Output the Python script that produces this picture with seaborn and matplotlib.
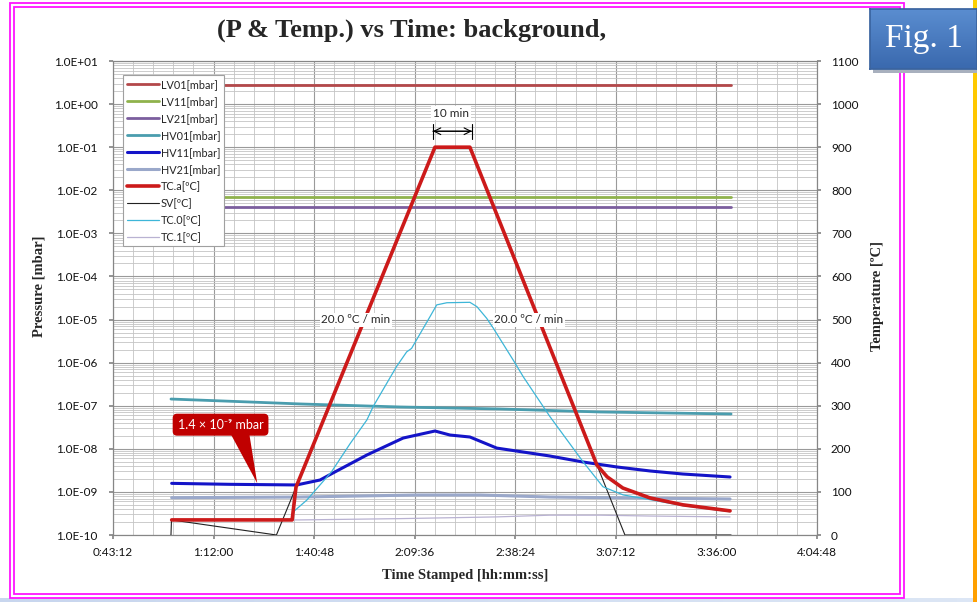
import numpy as np
import matplotlib
matplotlib.use("Agg")
import matplotlib.pyplot as plt
import matplotlib.ticker as mticker
from matplotlib.lines import Line2D
from matplotlib.patches import Rectangle
import seaborn as sns

# ---------------- data (time in minutes since 0:00:00) ----------------
lv_time = [59.8, 100.0, 140.0, 180.0, 220.2]
lv01_p = [2.75, 2.75, 2.75, 2.75, 2.75]
lv11_p = [6.9e-3, 6.9e-3, 6.9e-3, 6.9e-3, 6.9e-3]
lv21_p = [4.0e-3, 4.0e-3, 4.0e-3, 4.0e-3, 4.0e-3]

hv01_time = [59.8, 82.4, 96.8, 125.4, 154.0, 182.7, 220.2]
hv01_p = [1.43e-7, 1.22e-7, 1.10e-7, 9.35e-8, 8.40e-8, 7.16e-8, 6.43e-8]

hv11_time = [60.0, 76.7, 95.8, 102.5, 106.2, 115.9, 126.3, 135.4, 139.7, 145.4,
             153.1, 168.3, 177.8, 187.5, 197.0, 206.4, 219.9]
hv11_p = [1.58e-9, 1.50e-9, 1.45e-9, 1.89e-9, 2.75e-9, 7.19e-9, 1.78e-8, 2.59e-8,
          2.09e-8, 1.88e-8, 1.04e-8, 6.81e-9, 4.94e-9, 3.79e-9, 3.06e-9, 2.60e-9, 2.22e-9]

hv21_time = [60.0, 96.8, 130.2, 148.3, 168.3, 219.9]
hv21_p = [7.34e-10, 7.6e-10, 8.48e-10, 8.48e-10, 7.6e-10, 6.85e-10]

tca_time = [60.0, 94.5, 95.6, 105.8, 135.4, 145.4, 181.8, 184.7, 189.2, 197.0, 206.4, 219.9]
tca_temp = [35, 35, 111, 313, 900, 900, 162, 135, 109, 86, 70, 56]

sv_time = [59.8, 59.95, 90.0, 135.4, 145.4, 189.8, 220.2]
sv_temp = [0, 35, 0, 900, 900, 0, 0]

tc0_time = [60.0, 94.5, 95.0, 98.7, 105.8, 111.1, 115.9, 117.7, 124.4, 127.3, 128.7,
            134.0, 135.9, 138.8, 145.4, 147.4, 150.2, 152.1, 157.8, 160.7, 166.4,
            168.3, 177.8, 183.5, 189.3, 197.0, 206.4, 219.9]
tc0_temp = [35, 35, 55, 81, 147, 212, 267, 298, 391, 425, 433, 507, 534, 539, 540,
            530, 503, 480, 406, 367, 298, 275, 170, 112, 93, 82, 68, 54]

tc1_time = [60.0, 96.8, 125.4, 153.1, 168.3, 182.7, 197.0, 219.9]
tc1_temp = [35, 35, 38, 42, 46, 46, 44, 42]

x_ticks_min = [43.2, 72.0, 100.8, 129.6, 158.4, 187.2, 216.0, 244.8]
temp_ticks = list(range(0, 1101, 100))

# ---------------- style ----------------
sns.set_theme(style="white")
plt.rcParams["font.family"] = ["Lato", "DejaVu Sans"]

W, H = 977, 602
fig = plt.figure(figsize=(W / 100, H / 100), dpi=100)
fig.patch.set_facecolor("white")

L, R, T, B = 113, 817, 61, 535
ax = fig.add_axes([L / W, 1 - B / H, (R - L) / W, (B - T) / H])
ax.set_yscale("log")
ax2 = ax.twinx()

def draw(axis, t, v, color, lw, z):
    sns.lineplot(x=t, y=v, ax=axis, color=color, linewidth=lw, estimator=None,
                 sort=False, legend=False, zorder=z)

pressure = [
    ("LV01[mbar]", lv_time, lv01_p, "#B3484A", 2.0),
    ("LV11[mbar]", lv_time, lv11_p, "#8FB24C", 2.0),
    ("LV21[mbar]", lv_time, lv21_p, "#7B5E9E", 2.0),
    ("HV01[mbar]", hv01_time, hv01_p, "#4A9DAE", 2.0),
    ("HV11[mbar]", hv11_time, hv11_p, "#1414C8", 2.2),
    ("HV21[mbar]", hv21_time, hv21_p, "#9AA8CA", 2.2),
]
temps = [
    ("TC.a[ºC]", tca_time, tca_temp, "#CC1A1A", 2.6),
    ("SV[ºC]", sv_time, sv_temp, "#222222", 0.8),
    ("TC.0[ºC]", tc0_time, tc0_temp, "#3DB6D8", 0.9),
    ("TC.1[ºC]", tc1_time, tc1_temp, "#B9B2D2", 0.9),
]
for i, (lab, t, v, c, lw) in enumerate(pressure):
    draw(ax, t, v, c, lw, 3 + i)
draw(ax2, tc1_time, tc1_temp, "#B9B2D2", 0.9, 3)
draw(ax2, sv_time, sv_temp, "#222222", 0.8, 4)
draw(ax2, tc0_time, tc0_temp, "#3DB6D8", 0.9, 5)
draw(ax2, tca_time, tca_temp, "#CC1A1A", 2.6, 6)

# ---------------- axes ----------------
ax.set_xlim(43.2, 244.8)
ax.set_ylim(1e-10, 1e1)
ax2.set_ylim(0, 1100)
for a in (ax, ax2):
    a.set_xlabel("")
    a.set_ylabel("")

ax.set_xticks(x_ticks_min)
ax.set_xticks(np.linspace(43.2, 244.8, 36), minor=True)
ax.yaxis.set_major_locator(mticker.LogLocator(base=10, numticks=20))
ax.yaxis.set_minor_locator(mticker.LogLocator(base=10, subs=np.arange(2, 10), numticks=20))
ax.yaxis.set_minor_formatter(mticker.NullFormatter())
ax.yaxis.set_major_formatter(mticker.FuncFormatter(lambda v, p: f"{v:.1E}"))

def hms(v, p):
    s = int(round(v * 60))
    return f"{s // 3600}:{(s % 3600) // 60:02d}:{s % 60:02d}"
ax.xaxis.set_major_formatter(mticker.FuncFormatter(hms))
ax2.set_yticks(temp_ticks)

ax.grid(which="major", axis="both", color="#9A9A9A", lw=0.8)
ax.grid(which="minor", axis="both", color="#C4C4C4", lw=0.6)
ax.set_axisbelow(True)

spine_c = "#868686"
for a in (ax, ax2):
    for s in a.spines.values():
        s.set_color(spine_c)
        s.set_linewidth(0.8)

ax.tick_params(axis="y", which="major", direction="out", length=3, pad=8,
               color=spine_c, labelsize=8.5, labelcolor="#111111", left=True)
ax.tick_params(axis="y", which="minor", length=0)
ax.tick_params(axis="x", which="major", direction="out", length=3, pad=6,
               color=spine_c, labelsize=8.5, labelcolor="#111111", bottom=True)
ax.tick_params(axis="x", which="minor", length=0)
ax2.tick_params(axis="y", which="major", direction="out", length=3, pad=7,
                color=spine_c, labelsize=8.5, labelcolor="#111111", right=True)

# ---------------- legend ----------------
handles = [Line2D([], [], color=c, lw=lw) for (_, _, _, c, lw) in pressure + temps]
labels = [lab for (lab, *_rest) in pressure + temps]
leg = ax2.legend(handles, labels, loc="upper left", bbox_to_anchor=(0.0138, 0.970),
                 prop={"family": "Lato", "size": 7.8}, frameon=True, fancybox=False,
                 edgecolor="#A0A0A0", framealpha=1, borderpad=0.35, labelspacing=0.55,
                 handlelength=3.0, handletextpad=0.15, borderaxespad=0)
leg.get_frame().set_linewidth(0.8)
leg.set_zorder(20)

# ---------------- annotations ----------------
ax2.text(140.0, 979, "10 min", ha="center", va="center", fontsize=8.5,
         bbox=dict(boxstyle="square,pad=0.15", fc="white", ec="none"), zorder=10)
ax2.annotate("", xy=(134.8, 937), xytext=(146.0, 937),
             arrowprops=dict(arrowstyle="<->", color="black", lw=0.8,
                             shrinkA=0, shrinkB=0), zorder=10)
ax2.annotate("", xy=(134.8, 937), xytext=(146.0, 937),
             arrowprops=dict(arrowstyle="|-|,widthA=0.45,widthB=0.45", color="black",
                             lw=0.8, shrinkA=0, shrinkB=0), zorder=10)
for tx in (112.8, 162.3):
    ax2.text(tx, 499, "20.0 ºC / min", ha="center", va="center", fontsize=8.5,
             bbox=dict(boxstyle="square,pad=0.15", fc="white", ec="none"), zorder=10)

ax2.annotate("1.4 × 10⁻⁹ mbar", xy=(84.5, 120), xytext=(74.0, 256),
             ha="center", va="center", color="white", fontsize=9,
             family=["Lato", "DejaVu Sans"],
             bbox=dict(boxstyle="round,pad=0.4,rounding_size=0.35", fc="#C00000", ec="none"),
             arrowprops=dict(arrowstyle="wedge,tail_width=1.5,shrink_factor=0.5",
                             fc="#C00000", ec="none", relpos=(0.72, 0.0),
                             patchA=None, shrinkA=0, shrinkB=0), zorder=12)

# ---------------- titles / labels ----------------
fig.text(412 / W, 1 - 30 / H, "(P & Temp.) vs Time: background,", ha="center", va="center",
         family="Liberation Serif", weight="bold", fontsize=19)
fig.text(39 / W, 1 - 286 / H, "Pressure [mbar]", rotation=90, ha="center", va="center",
         family="Liberation Serif", weight="bold", fontsize=10.5)
fig.text(877 / W, 1 - 296 / H, "Temperature [ºC]", rotation=90, ha="center", va="center",
         family="Liberation Serif", weight="bold", fontsize=10.5)
fig.text(465 / W, 1 - 575 / H, "Time Stamped [hh:mm:ss]", ha="center", va="center",
         family="Liberation Serif", weight="bold", fontsize=10.5)

# ---------------- decorative frame ----------------
for (x0, y0, x1, y1) in [(10, 3, 904, 598), (14, 7, 900, 594)]:
    fig.add_artist(Rectangle((x0 / W, 1 - y1 / H), (x1 - x0) / W, (y1 - y0) / H,
                             transform=fig.transFigure, fill=False, ec="#FF14FF", lw=1.3,
                             zorder=2))

# bottom light strip
bax = fig.add_axes([0, 0, 1, 4 / H])
bax.imshow(np.linspace(0, 1, 50).reshape(1, -1), aspect="auto",
           cmap=matplotlib.colors.LinearSegmentedColormap.from_list("b", ["#C8D6EE", "#DCE6F5"]))
bax.axis("off")
# right orange line
rax = fig.add_axes([973 / W, 0, 4 / W, 1])
rax.imshow(np.linspace(0, 1, 50).reshape(-1, 1), aspect="auto",
           cmap=matplotlib.colors.LinearSegmentedColormap.from_list("o", ["#FFD000", "#FFA000"]))
rax.axis("off")

# "Fig. 1" badge (shadow + gradient box), drawn above the frame
sax = fig.add_axes([873 / W, 1 - 73 / H, 110 / W, 60 / H])
sax.set_facecolor("#A8B0BE")
sax.set_xticks([]); sax.set_yticks([])
for s in sax.spines.values():
    s.set_visible(False)
sax.set_zorder(8)
fax = fig.add_axes([870 / W, 1 - 69 / H, 107 / W, 60 / H])
fax.imshow(np.linspace(0, 1, 50).reshape(-1, 1), aspect="auto",
           cmap=matplotlib.colors.LinearSegmentedColormap.from_list("f", ["#5A8DD0", "#3A69AE"]))
fax.set_xticks([]); fax.set_yticks([])
for s in fax.spines.values():
    s.set_color("#3A64A0")
fax.set_zorder(9)
fax.text(0.5, 0.5, "Fig. 1", transform=fax.transAxes, ha="center", va="center",
         color="white", family="Liberation Serif", fontsize=24)

fig.savefig("out.png", dpi=100)
